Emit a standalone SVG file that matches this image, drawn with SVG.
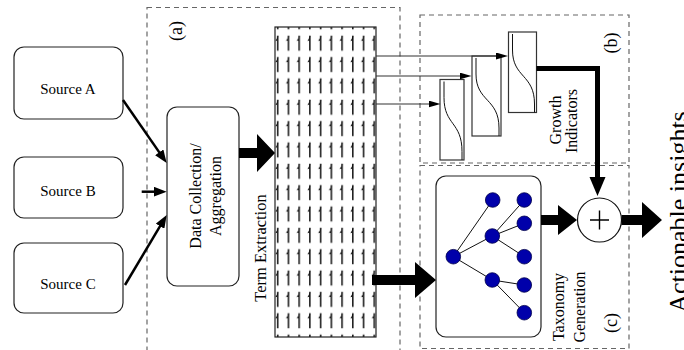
<svg xmlns="http://www.w3.org/2000/svg" width="684" height="350" viewBox="0 0 684 350">
<style>
  text { font-family: "Liberation Serif", "Times New Roman", serif; fill: #000; }
  .box { fill: #fff; stroke: #222; stroke-width: 1.2; }
  .dash { fill: none; stroke: #666; stroke-width: 1.2; stroke-dasharray: 5 4; }
  .thick { fill: #000; }
  .src { stroke: #000; stroke-width: 2.5; fill: none; }
  .thin { stroke: #333; stroke-width: 1.2; fill: none; }
  .chart { fill: #fff; stroke: #333; stroke-width: 1.2; }
  .curve { fill: none; stroke: #111; stroke-width: 1; }
  .edge { stroke: #111; stroke-width: 1; }
  .node { fill: #0000aa; stroke: #00004a; stroke-width: 0.8; }
  .lbl { font-size: 15px; text-anchor: middle; }
  .rl { font-size: 16px; text-anchor: middle; }
  .tag { font-size: 18px; text-anchor: middle; }
  .big { font-size: 26px; text-anchor: middle; }
</style>
<defs>
  <marker id="ah" markerUnits="userSpaceOnUse" markerWidth="13" markerHeight="10" refX="5" refY="5" orient="auto">
    <path d="M0,0 L13,5 L0,10 z" fill="#000"/>
  </marker>
  <marker id="ah2" markerUnits="userSpaceOnUse" markerWidth="12" markerHeight="7" refX="6" refY="3.5" orient="auto">
    <path d="M0,0 L12,3.5 L0,7 z" fill="#000"/>
  </marker>
  <pattern id="harp" patternUnits="userSpaceOnUse" x="272" y="33" width="10.73" height="21.35">
    <path d="M5.7,17.7 V2.7" stroke="#000" stroke-width="1.4"/>
    <path d="M6.4,2.7 L3.3,8 L5,7.6 z" fill="#000"/>
  </pattern>
</defs>

<!-- dashed regions -->
<g id="region-a">
  <rect class="dash" x="147" y="7.5" width="253" height="360"/>
  <text class="tag" transform="translate(182,31) rotate(-90)">(a)</text>
</g>
<g id="region-b">
  <rect class="dash" x="420" y="15" width="209" height="148"/>
  <text class="tag" transform="translate(617,43) rotate(-90)">(b)</text>
</g>
<g id="region-c">
  <rect class="dash" x="420" y="165.5" width="209" height="183"/>
  <text class="tag" transform="translate(617,323) rotate(-90)">(c)</text>
</g>

<g id="source-a">
  <rect class="box" x="14" y="47" width="109" height="72" rx="10"/>
  <text class="lbl" x="68" y="94">Source A</text>
</g>
<g id="source-b">
  <rect class="box" x="14" y="157" width="109" height="61" rx="10"/>
  <text class="lbl" x="68" y="196">Source B</text>
</g>
<g id="source-c">
  <rect class="box" x="14" y="243" width="109" height="70" rx="10"/>
  <text class="lbl" x="68" y="289">Source C</text>
</g>

<g id="data-collection">
  <rect class="box" x="167" y="107" width="72" height="179" rx="10"/>
  <text class="rl" transform="translate(201,196) rotate(-90)">Data Collection/</text>
  <text class="rl" transform="translate(221,196) rotate(-90)">Aggregation</text>
</g>

<g id="term-extraction">
  <rect x="275" y="27" width="101" height="310" fill="url(#harp)" stroke="#222" stroke-width="1.2"/>
  <text class="rl" style="font-size:16.5px" transform="translate(266,248) rotate(-90)">Term Extraction</text>
</g>

<g id="growth-indicators">
  <rect class="chart" x="440" y="79.5" width="24" height="80.5"/>
  <path class="curve" d="M444,81.5 L444,97.5 C444,125.5 462,121.5 462,151.5 L462,160"/>
  <rect class="chart" x="472" y="56" width="29" height="80"/>
  <path class="curve" d="M476,58 L476,74 C476,102 499,98 499,128 L499,136"/>
  <rect class="chart" x="508.5" y="32" width="28" height="80.5"/>
  <path class="curve" d="M512.5,34 L512.5,50 C512.5,78 534.5,74 534.5,104 L534.5,112.5"/>
  <text class="rl" transform="translate(561,120) rotate(-90)">Growth</text>
  <text class="rl" transform="translate(577,121) rotate(-90)">Indicators</text>
</g>

<g id="taxonomy">
  <rect class="box" x="436" y="176" width="105" height="161" rx="10"/>
  <line class="edge" x1="453.3" y1="256.7" x2="492.7" y2="200"/>
  <line class="edge" x1="453.3" y1="256.7" x2="492.3" y2="236"/>
  <line class="edge" x1="453.3" y1="256.7" x2="492.3" y2="280"/>
  <line class="edge" x1="492.3" y1="236" x2="524.3" y2="200"/>
  <line class="edge" x1="492.3" y1="236" x2="524.3" y2="223.3"/>
  <line class="edge" x1="492.3" y1="236" x2="524.3" y2="256.7"/>
  <line class="edge" x1="492.3" y1="280" x2="524.3" y2="285"/>
  <line class="edge" x1="492.3" y1="280" x2="524.3" y2="312.7"/>
  <circle class="node" cx="453.3" cy="256.7" r="7.3"/>
  <circle class="node" cx="492.7" cy="200" r="7.3"/>
  <circle class="node" cx="492.3" cy="236" r="7.3"/>
  <circle class="node" cx="492.3" cy="280" r="7.3"/>
  <circle class="node" cx="524.3" cy="200" r="7.3"/>
  <circle class="node" cx="524.3" cy="223.3" r="7.3"/>
  <circle class="node" cx="524.3" cy="256.7" r="7.3"/>
  <circle class="node" cx="524.3" cy="285" r="7.3"/>
  <circle class="node" cx="524.3" cy="312.7" r="7.3"/>
  <text class="rl" transform="translate(564,307) rotate(-90)">Taxonomy</text>
  <text class="rl" transform="translate(585,307) rotate(-90)">Generation</text>
</g>

<g id="combiner">
  <circle cx="599.5" cy="220" r="22" fill="#fff" stroke="#111" stroke-width="1.2"/>
  <path d="M590,220 H609 M599.5,210.5 V229.5" stroke="#000" stroke-width="1.4"/>
</g>

<g id="output">
  <text class="big" transform="translate(687,212) rotate(-90)">Actionable insights</text>
</g>

<g id="connectors">
  <line class="src" x1="123" y1="100" x2="162.1" y2="156.4" marker-end="url(#ah)"/>
  <line class="src" x1="141.7" y1="191.7" x2="158.7" y2="191.7" marker-end="url(#ah)"/>
  <line class="src" x1="125" y1="285" x2="162.6" y2="221.9" marker-end="url(#ah)"/>
  <polygon class="thick" points="239,148 257,148 257,134 275,153 257,172 257,158 239,158"/>
  <line class="thin" x1="376" y1="56" x2="502" y2="56" marker-end="url(#ah2)"/>
  <line class="thin" x1="376" y1="76" x2="465.5" y2="76" marker-end="url(#ah2)"/>
  <line class="thin" x1="376" y1="104" x2="434.5" y2="104" marker-end="url(#ah2)"/>
  <polygon class="thick" points="372,275 415,275 415,262 436,280 415,298 415,285 372,285"/>
  <polygon class="thick" points="541,215 558,215 558,205 577,220 558,235 558,225 541,225"/>
  <polyline points="536.5,68.5 597.5,68.5 597.5,180" fill="none" stroke="#000" stroke-width="5"/>
  <polygon class="thick" points="589.5,177 605.5,177 597.5,196"/>
  <polygon class="thick" points="621.5,215 642,215 642,202 662,220 642,238 642,225 621.5,225"/>
</g>
</svg>
